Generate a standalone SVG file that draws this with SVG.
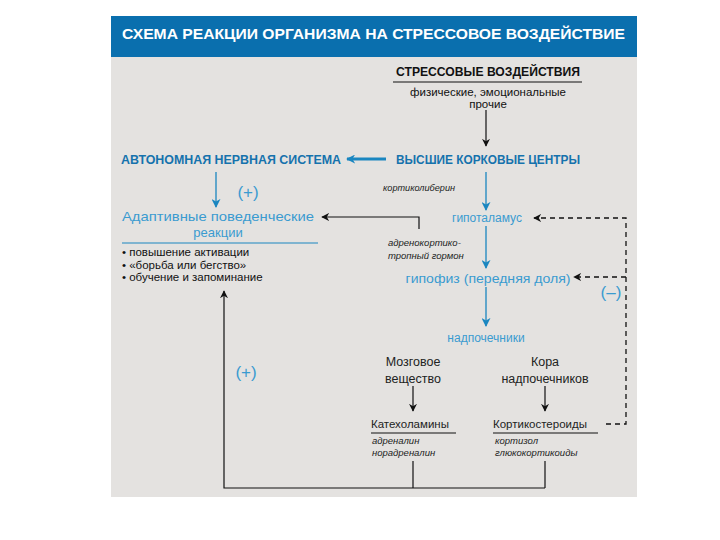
<svg xmlns="http://www.w3.org/2000/svg" width="720" height="540" viewBox="0 0 720 540">
<defs>
<style>
text{font-family:"Liberation Sans","DejaVu Sans",sans-serif}
.hd{fill:#fff;font-weight:bold;font-size:15px}
.bk{fill:#111;font-size:11.5px}
.bkb{fill:#111;font-weight:bold;font-size:12.5px}
.db{fill:#1572ad;font-weight:bold;font-size:12.5px}
.lb{fill:#3a9bd0;font-size:12px}
.lbb{fill:#3a9bd0;font-size:13px}
.pm{fill:#3a9bd0;font-size:17px}
.it{fill:#222;font-size:9.5px;font-style:italic}
.md{fill:#222;font-size:12.5px}
.sm{fill:#222;font-size:11.5px}
.ln{stroke:#111;stroke-width:1.2;fill:none}
.bl{stroke:#1a86c0;stroke-width:1.3;fill:none}
.ds{stroke:#111;stroke-width:1.3;fill:none;stroke-dasharray:5,4}
</style>
<marker id="ak" viewBox="0 0 10 10" refX="9" refY="5" markerWidth="8" markerHeight="8" orient="auto" markerUnits="userSpaceOnUse"><path d="M0,0 L10,5 L0,10 L3,5 z" fill="#111"/></marker>
<marker id="ab" viewBox="0 0 10 10" refX="9" refY="5" markerWidth="9" markerHeight="9" orient="auto" markerUnits="userSpaceOnUse"><path d="M0,0 L10,5 L0,10 L3,5 z" fill="#1a86c0"/></marker>
</defs>
<rect x="0" y="0" width="720" height="540" fill="#fff"/>
<rect x="111" y="57" width="526" height="440" fill="#e4e2e0"/>
<rect x="111" y="16" width="526" height="41" fill="#0a6fae"/>
<text class="hd" x="122" y="39" textLength="503" lengthAdjust="spacingAndGlyphs">СХЕМА РЕАКЦИИ ОРГАНИЗМА НА СТРЕССОВОЕ ВОЗДЕЙСТВИЕ</text>

<g id="connectors">
<line class="ln" x1="486" y1="110" x2="486" y2="146" marker-end="url(#ak)"/>
<line x1="386" y1="159" x2="347" y2="159" stroke="#1a86c0" stroke-width="3" marker-end="url(#ab)"/>
<line class="bl" x1="216" y1="172" x2="216" y2="207" marker-end="url(#ab)"/>
<line class="bl" x1="486" y1="172" x2="486" y2="210" marker-end="url(#ab)"/>
<polyline class="ln" points="419,229 419,217 322,217" marker-end="url(#ak)"/>
<line class="bl" x1="486" y1="226" x2="486" y2="268" marker-end="url(#ab)"/>
<line class="bl" x1="486" y1="287" x2="486" y2="326" marker-end="url(#ab)"/>
<line class="ln" x1="413" y1="386" x2="413" y2="411" stroke-width="1.8" marker-end="url(#ak)"/>
<line class="ln" x1="545" y1="386" x2="545" y2="411" marker-end="url(#ak)"/>
<polyline class="ds" points="606,424 626,424 626,218 534,218" marker-end="url(#ak)"/>
<line class="ds" x1="626" y1="277" x2="574" y2="277" marker-end="url(#ak)"/>
<polyline class="ln" points="413,461 413,488"/>
<polyline class="ln" points="545,461 545,488" stroke-width="2"/>
<polyline class="ln" points="545,488 224,488 224,291" marker-end="url(#ak)"/>
</g>

<g id="stress">
<text class="bkb" x="488" y="76" text-anchor="middle" textLength="184" lengthAdjust="spacingAndGlyphs">СТРЕССОВЫЕ ВОЗДЕЙСТВИЯ</text>
<line x1="393" y1="82" x2="582" y2="82" stroke="#111" stroke-width="1.2"/>
<text class="bk" x="488" y="96" text-anchor="middle">физические, эмоциональные</text>
<text class="bk" x="488" y="108" text-anchor="middle">прочие</text>
</g>
<g id="cortex"><text class="db" x="488" y="164" text-anchor="middle" textLength="184" lengthAdjust="spacingAndGlyphs">ВЫСШИЕ КОРКОВЫЕ ЦЕНТРЫ</text></g>
<g id="ans"><text class="db" x="231" y="164" text-anchor="middle" textLength="220" lengthAdjust="spacingAndGlyphs">АВТОНОМНАЯ НЕРВНАЯ СИСТЕМА</text></g>
<g id="plus1"><text class="pm" x="248" y="198" text-anchor="middle">(+)</text></g>
<g id="adaptive">
<text class="lbb" x="218" y="221" text-anchor="middle" textLength="192" lengthAdjust="spacingAndGlyphs">Адаптивные поведенческие</text>
<text class="lbb" x="218" y="237" text-anchor="middle">реакции</text>
<line x1="122" y1="243" x2="318" y2="243" stroke="#1a86c0" stroke-width="1"/>
<text class="bk" x="122" y="256">• повышение активации</text>
<text class="bk" x="122" y="269">• «борьба или бегство»</text>
<text class="bk" x="122" y="281">• обучение и запоминание</text>
</g>
<g id="crh"><text class="it" x="383" y="191" textLength="72" lengthAdjust="spacingAndGlyphs">кортиколиберин</text></g>
<g id="hypothalamus"><text class="lb" x="487" y="222" text-anchor="middle">гипоталамус</text></g>
<g id="acth">
<text class="it" x="388" y="246">адренокортико-</text>
<text class="it" x="388" y="259">тропный гормон</text>
</g>
<g id="pituitary"><text class="lb" x="488" y="283" text-anchor="middle" textLength="165" lengthAdjust="spacingAndGlyphs">гипофиз (передняя доля)</text></g>
<g id="minus"><text class="pm" x="611" y="298" text-anchor="middle">(–)</text></g>
<g id="adrenals"><text class="lb" x="486" y="342" text-anchor="middle">надпочечники</text></g>
<g id="medulla">
<text class="md" x="413" y="366" text-anchor="middle">Мозговое</text>
<text class="md" x="413" y="383" text-anchor="middle">вещество</text>
</g>
<g id="cortexadr">
<text class="md" x="545" y="366" text-anchor="middle">Кора</text>
<text class="md" x="545" y="383" text-anchor="middle">надпочечников</text>
</g>
<g id="catecholamines">
<text class="sm" x="371" y="428">Катехоламины</text>
<line x1="371" y1="433" x2="456" y2="433" stroke="#111" stroke-width="1"/>
<text class="it" x="372" y="444">адреналин</text>
<text class="it" x="372" y="456">норадреналин</text>
</g>
<g id="corticosteroids">
<text class="sm" x="493" y="428">Кортикостероиды</text>
<line x1="493" y1="433" x2="598" y2="433" stroke="#111" stroke-width="1"/>
<text class="it" x="495" y="444">кортизол</text>
<text class="it" x="495" y="456">глюкокортикоиды</text>
</g>
<g id="plus2"><text class="pm" x="246" y="378" text-anchor="middle">(+)</text></g>
</svg>
